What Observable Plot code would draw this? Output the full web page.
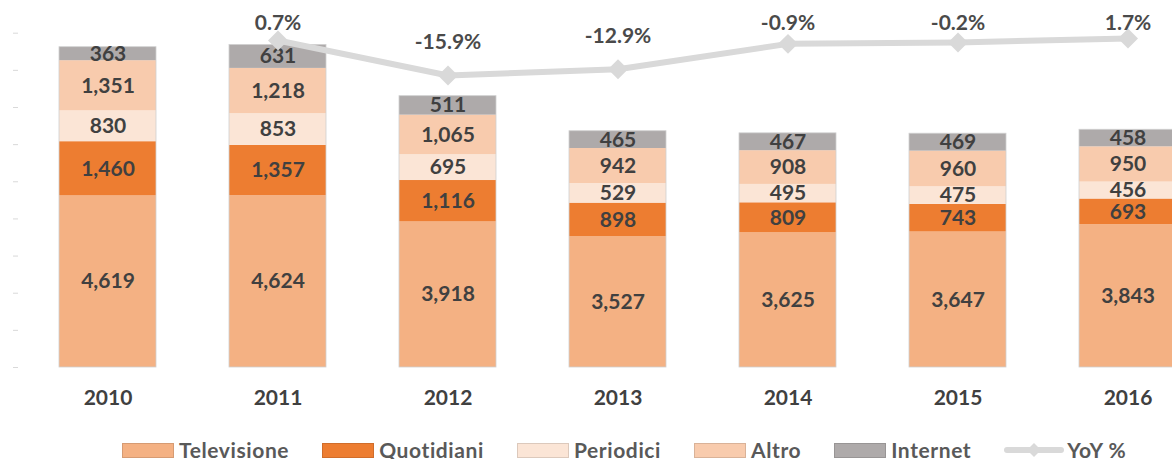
<!DOCTYPE html>
<html><head><meta charset="utf-8">
<script src="https://cdn.jsdelivr.net/npm/d3@7"></script>
<script src="https://cdn.jsdelivr.net/npm/@observablehq/plot@0.6"></script>
<style>
body{margin:0;background:#fff;font-family:Lato,"Open Sans",sans-serif;}
#chart{position:relative;width:1172px;height:459px;overflow:hidden;}
#chart svg{display:block;}
.legend{position:absolute;top:440px;left:122px;display:flex;align-items:center;font-weight:bold;font-size:21px;line-height:20px;letter-spacing:0.6px;color:#595959;white-space:nowrap;}
.item{display:flex;align-items:center;margin-right:33px;}
.sw{width:50px;height:13px;margin-right:5px;border:0.5px solid rgba(0,0,0,0.12);}
.item svg{margin-right:3px;}
</style>
</head><body>
<div id="chart"></div>
<script>
const years = ["2010","2011","2012","2013","2014","2015","2016"];
const series = ["Televisione","Quotidiani","Periodici","Altro","Internet"];
const colors = ["#F4B183","#ED7D31","#FBE5D6","#F8CBAD","#AEAAAA"];
const televisione = [4619,4624,3918,3527,3625,3647,3843];
const quotidiani  = [1460,1357,1116,898,809,743,693];
const periodici   = [830,853,695,529,495,475,456];
const altro       = [1351,1218,1065,942,908,960,950];
const internet    = [363,631,511,465,467,469,458];
const yoy         = [null,0.7,-15.9,-12.9,-0.9,-0.2,1.7];
const yTicks      = [0,1000,2000,3000,4000,5000,6000,7000,8000,9000];

const values = [televisione, quotidiani, periodici, altro, internet];
const rows = [];
const totals = [];
years.forEach((yr, i) => {
  let acc = 0;
  series.forEach((s, j) => {
    const v = values[j][i];
    rows.push({year: yr, series: s, value: v, y1: acc, y2: acc + v, mid: acc + v / 2});
    acc += v;
  });
  totals.push({year: yr, total: acc});
});
const yoyRows = years.map((yr, i) => ({year: yr, yoy: yoy[i]})).filter(d => d.yoy !== null);

// secondary (hidden) axis for YoY %, mapped onto the primary value axis
const yoyAxis = d3.scaleLinear().domain([-154.4, 4.16]).range([0, 9000]);
const fmt = d3.format(",");

const plot = Plot.plot({
  width: 1172, height: 425,
  marginTop: 32.7, marginBottom: 58, marginLeft: 18, marginRight: 0,
  style: {fontFamily: "Lato, 'Open Sans', sans-serif", overflow: "visible"},
  x: {domain: years, range: [20.9, 1213.2], paddingInner: 0.43, paddingOuter: 0.215, label: null},
  y: {domain: [0, 9000], label: null},
  color: {domain: series, range: colors},
  marks: [
    Plot.axisY({ticks: yTicks, tickSize: 5, tickFormat: () => "", stroke: "#d9d9d9", label: null}),
    Plot.barY(rows, {x: "year", y1: "y1", y2: "y2", fill: "series"}),
    Plot.barY(totals, {x: "year", y: "total", fill: "none", stroke: "#d0d0d0", strokeWidth: 0.8}),
    Plot.text(rows, {x: "year", y: "mid", text: d => fmt(d.value), fill: "#404040",
      fontSize: 21, fontWeight: "bold"}),
    Plot.axisX({tickSize: 0, tickPadding: 23, fontSize: 21, fontWeight: "bold", fill: "#404040", label: null}),
    Plot.line(yoyRows, {x: "year", y: d => yoyAxis(d.yoy), stroke: "#d9d9d9", strokeWidth: 6}),
    Plot.dot(yoyRows, {x: "year", y: d => yoyAxis(d.yoy), symbol: "diamond2", r: 9, fill: "#d9d9d9", stroke: null}),
    Plot.text(yoyRows, {x: "year", y: d => Math.min(yoyAxis(d.yoy) + 890, 9262),
      text: d => d.yoy.toFixed(1) + "%", fill: "#4a4a4a", fontSize: 21, fontWeight: "bold"})
  ]
});
const chart = document.getElementById("chart");
chart.appendChild(plot);

const legend = document.createElement("div");
legend.className = "legend";
series.forEach((s, j) => {
  const it = document.createElement("div");
  it.className = "item";
  const sw = document.createElement("div");
  sw.className = "sw";
  sw.style.background = colors[j];
  it.appendChild(sw);
  const t = document.createElement("span");
  t.textContent = s;
  it.appendChild(t);
  legend.appendChild(it);
});
const it = document.createElement("div");
it.className = "item";
it.innerHTML = '<svg width="60" height="16"><line x1="3" y1="8" x2="57" y2="8" stroke="#d9d9d9" stroke-width="6" stroke-linecap="round"/><path d="M30,1 L37,8 L30,15 L23,8 Z" fill="#d9d9d9"/></svg><span>YoY %</span>';
legend.appendChild(it);
chart.appendChild(legend);
</script>
</body></html>
